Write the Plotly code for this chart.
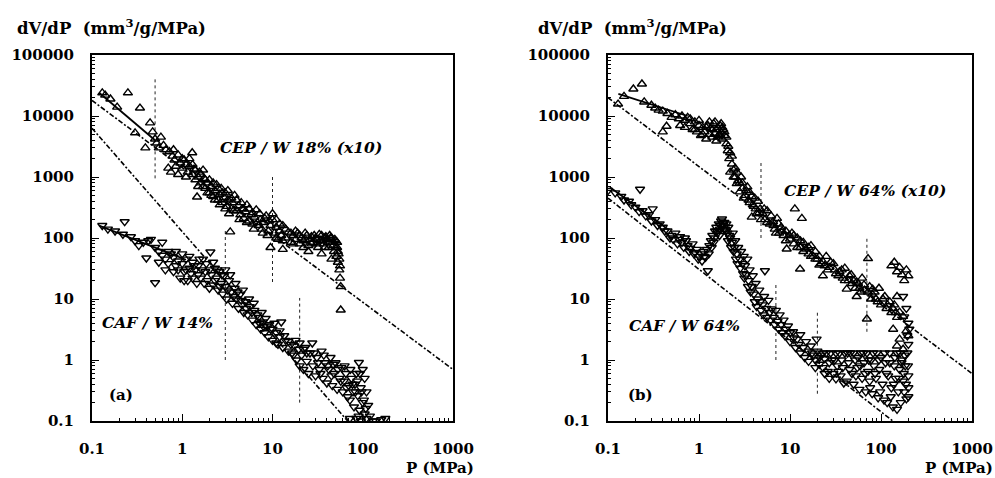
import plotly.graph_objects as go

W, H = 995, 478

# ---------------- data ----------------
x_ticks = [0.1, 1, 10, 100, 1000]
x_ticklabels = ["0.1", "1", "10", "100", "1000"]
y_ticks = [0.1, 1, 10, 100, 1000, 10000, 100000]
y_ticklabels = ["0.1", "1", "10", "100", "1000", "10000", "100000"]
minor_mult = [2, 3, 4, 5, 6, 7, 8, 9]

# panel (a): CEP/W 18% (x10)  -- up triangles
cep_a = [(0.13, 24000), (0.14, 22000), (0.16, 19000), (0.19, 14000), (0.25, 24000), (0.3, 5300),
         (0.34, 13500), (0.39, 3000), (0.44, 7700), (0.47, 5500), (0.5, 4200), (0.52, 3600),
         (0.55, 3000), (0.58, 4500), (0.62, 3300), (0.66, 2800), (0.7, 1400), (0.72, 2600),
         (0.78, 2200), (0.82, 1900), (0.85, 1500), (0.9, 2300), (0.95, 1700), (1.0, 1400),
         (1.05, 1900), (1.1, 1600), (1.15, 1200), (1.2, 1500), (1.29, 2500), (1.3, 1100),
         (1.35, 1350), (1.4, 900), (1.46, 470), (1.5, 1000), (1.55, 1200), (1.6, 800), (1.7, 700),
         (1.75, 950), (1.8, 650), (1.9, 800), (2.0, 550), (2.1, 700), (2.2, 480), (2.3, 600),
         (2.4, 750), (2.5, 420), (2.6, 520), (2.7, 650), (2.8, 380), (2.9, 460), (3.0, 550),
         (3.1, 330), (3.2, 420), (3.4, 126), (3.5, 300), (3.6, 380), (3.8, 500), (4.0, 280),
         (4.2, 340), (4.4, 240), (4.6, 300), (4.8, 210), (5.0, 270), (5.2, 350), (5.5, 190),
         (5.8, 240), (6.0, 170), (6.3, 220), (6.6, 290), (7.0, 160), (7.3, 200), (7.6, 140),
         (8.0, 180), (8.5, 230), (9.0, 130), (9.5, 160), (9.5, 70), (10.0, 250), (10.0, 200),
         (10.5, 120), (11, 150), (11.5, 95), (12, 130), (12.5, 110), (13, 160), (13, 65), (14, 100),
         (15, 125), (16, 85), (17, 110), (18, 95), (19, 120), (20, 80), (21, 100), (22, 90),
         (23, 120), (24, 110), (25, 75), (25, 60), (26, 95), (27, 105), (28, 85), (30, 100),
         (31, 80), (32, 70), (33, 115), (34, 90), (35, 110), (35, 55), (37, 80), (38, 100),
         (40, 95), (42, 70), (43, 110), (44, 100), (45, 45), (46, 85), (48, 60), (50, 90),
         (51, 50), (52, 70), (53, 40), (54, 55), (55, 30), (56, 22), (57, 16), (57, 6.6)]
cep_a_more = [(0.75, 1200), (0.8, 2800), (0.9, 1100), (1.0, 2000), (1.1, 1000), (1.2, 2000),
              (1.3, 1600), (1.4, 1300), (1.5, 700), (1.6, 1100), (1.7, 1300), (1.8, 900),
              (1.9, 550), (2.0, 900), (2.1, 500), (2.2, 800), (2.3, 420), (2.5, 650), (2.6, 350),
              (2.8, 550), (3.0, 300), (3.2, 600), (3.3, 250), (3.5, 450), (3.7, 280), (4.0, 420),
              (4.3, 200), (4.5, 380), (4.8, 300), (5.2, 180), (5.5, 300), (6.0, 260), (6.2, 140),
              (6.8, 180), (7.2, 250), (7.8, 120), (8.2, 210), (8.8, 110), (9.2, 190), (11, 200),
              (11, 100), (12, 170), (13, 90), (14, 140), (16, 120), (17, 80), (18, 130), (20, 110),
              (22, 70), (23, 95), (27, 80), (29, 110), (31, 95), (36, 90), (38, 70), (39, 105),
              (41, 85), (45, 100), (47, 75), (49, 95), (50, 70), (52, 85), (53, 60), (55, 45),
              (56, 35)]

# panel (a): CAF/W 14%  -- down triangles
caf_a = [(0.13, 160), (0.15, 140), (0.18, 130), (0.23, 185), (0.22, 115), (0.27, 105), (0.3, 90),
         (0.33, 75), (0.37, 85), (0.4, 47), (0.42, 90), (0.45, 95), (0.5, 18.5), (0.55, 60),
         (0.6, 52), (0.65, 45), (0.7, 38), (0.75, 55), (0.8, 48), (0.85, 35), (0.9, 42),
         (0.95, 22), (1.0, 38), (1.05, 28), (1.1, 45), (1.15, 20), (1.2, 32), (1.25, 26),
         (1.3, 40), (1.4, 30), (1.45, 18), (1.5, 35), (1.6, 22), (1.7, 45), (1.8, 28), (1.9, 20),
         (2.05, 59), (2.1, 25), (2.2, 17), (2.3, 32), (2.4, 22), (2.5, 14), (2.6, 28), (2.7, 18),
         (2.8, 12), (2.9, 24), (3.0, 16), (3.1, 10), (3.3, 20), (3.5, 13), (3.6, 8.5), (3.8, 15),
         (4.0, 10), (4.2, 7), (4.4, 12), (4.6, 8), (4.8, 6), (5.0, 9), (5.3, 5.5), (5.6, 7.5),
         (6.0, 4.5), (6.3, 6.5), (6.6, 3.8), (7.0, 5), (7.4, 3.2), (7.8, 4.2), (8.2, 2.8),
         (8.6, 3.6), (9.0, 2.4), (9.5, 3.2), (10, 2.1), (10.5, 4), (11, 2.8), (11.5, 1.8),
         (12, 2.4), (12.5, 4.2), (13, 1.6), (14, 2.1), (15, 1.4), (16, 1.8), (17, 1.2),
         (18, 2.1), (18.5, 1.0), (19.5, 1.5), (20, 0.8), (21, 1.2), (22, 0.7), (23, 1.6),
         (24, 0.95), (25, 0.6), (26, 1.3), (27.6, 1.9), (28, 0.8), (30, 0.55), (31, 1.1),
         (33, 0.7), (35, 1.4), (36, 0.5), (38, 0.9), (40, 0.42), (42, 0.7), (44, 1.1),
         (46, 0.38), (48, 0.6), (50, 0.9), (52, 0.33), (55, 0.5), (58, 0.75), (60, 0.3),
         (62, 0.45), (65, 0.6), (68, 0.25), (70, 0.38), (72, 0.22), (75, 0.5), (78, 0.3),
         (80, 0.17), (82, 0.4), (85, 0.6), (88, 0.26), (90.6, 0.91), (92, 0.15), (95, 0.35),
         (100, 0.2), (100, 0.7), (105, 0.13), (105, 0.5), (110, 0.3), (115, 0.18), (72, 0.11),
         (85, 0.11), (95, 0.1), (120, 0.12), (130, 0.1), (160, 0.105), (178, 0.11)]
caf_a_more = [(0.5, 70), (0.55, 40), (0.6, 85), (0.65, 30), (0.7, 60), (0.8, 28), (0.85, 60),
              (0.9, 30), (1.0, 55), (1.05, 20), (1.1, 30), (1.2, 50), (1.3, 22), (1.35, 35),
              (1.5, 25), (1.55, 45), (1.65, 30), (1.75, 18), (1.85, 38), (2.0, 30), (2.0, 15),
              (2.2, 40), (2.3, 20), (2.45, 30), (2.6, 16), (2.75, 25), (3.0, 30), (3.2, 14),
              (3.4, 25), (3.7, 11), (3.9, 18), (4.1, 13), (4.5, 9.5), (4.7, 14), (5.1, 7),
              (5.5, 10), (5.9, 6), (6.2, 8.5), (6.8, 5.5), (7.2, 4), (7.6, 6), (8.0, 3.5),
              (8.4, 4.8), (9.2, 3.8), (10, 3.2), (11, 1.9), (12, 3.0), (13.5, 2.5), (15, 2.0),
              (16.5, 1.3), (17.5, 1.7), (20, 1.9), (22, 1.5), (24, 1.3), (29, 1.3), (32, 0.9),
              (34, 0.6), (37, 1.2), (41, 0.8), (45, 0.55), (47, 0.85), (53, 0.7), (57, 0.45),
              (63, 0.8), (66, 0.35), (73, 0.7), (77, 0.4), (83, 0.3), (87, 0.45), (93, 0.6),
              (97, 0.3), (103, 0.22), (108, 0.16), (90, 0.12), (110, 0.11), (140, 0.1)]

# panel (b): CEP/W 64% (x10)  -- up triangles
cep_b = [(0.129, 15700), (0.15, 21000), (0.19, 27700), (0.236, 33500), (0.25, 17000), (0.3, 15000),
         (0.33, 13500), (0.36, 12500), (0.4, 5500), (0.4, 12000), (0.44, 6800), (0.45, 11000),
         (0.5, 9500), (0.55, 10500), (0.6, 9000), (0.62, 7000), (0.65, 10000), (0.7, 8500),
         (0.75, 9500), (0.8, 7500), (0.85, 6000), (0.9, 8000), (0.95, 5500), (1.0, 7000),
         (1.05, 4800), (1.1, 6500), (1.15, 5500), (1.2, 4200), (1.25, 7000), (1.3, 5000),
         (1.35, 6200), (1.4, 4500), (1.45, 7500), (1.5, 5200), (1.55, 3900), (1.6, 6500),
         (1.65, 4800), (1.7, 7000), (1.75, 5500), (1.8, 4200), (1.85, 6000), (1.9, 4800),
         (2.0, 3500), (2.07, 2700), (2.15, 2000), (2.3, 1630), (2.2, 1200), (2.4, 1000),
         (2.5, 1400), (2.6, 780), (2.7, 870), (2.8, 570), (2.9, 1000), (3.0, 650), (3.2, 500),
         (3.4, 690), (3.5, 420), (3.6, 560), (3.8, 220), (3.9, 350), (4.1, 450), (4.2, 300),
         (4.45, 400), (4.6, 260), (4.7, 300), (5.0, 250), (5.3, 200), (5.6, 280), (6.0, 170),
         (6.5, 185), (6.8, 140), (7.2, 210), (7.6, 120), (8.0, 150), (8.5, 110), (9.2, 66),
         (9.0, 130), (10, 96), (10.5, 120), (11.3, 300), (11, 80), (12, 100), (12.9, 31),
         (13.5, 210), (13, 70), (14, 85), (15, 66), (16, 55), (17, 75), (18, 50), (19, 60),
         (20, 45), (21, 36), (23, 41), (23, 24), (25, 50), (27, 33), (30, 38), (32, 26),
         (35, 28), (38, 22), (40, 32), (42, 14.5), (45, 24), (48, 18), (50, 20), (54, 11),
         (54, 19), (58, 15), (62, 22), (66, 14), (70, 4.7), (72, 46), (75, 16), (80, 12),
         (81, 14.5), (88, 10), (95, 15), (100, 8), (110, 11), (115, 7), (125, 9), (130, 6),
         (140, 8), (150, 5), (160, 6.1), (130, 35), (140, 40), (150, 28), (160, 33), (170, 25),
         (180, 20), (190, 30), (200, 24), (150, 11), (175, 5.2), (136, 3.2), (160, 2.2),
         (150, 1.7), (175, 1.5), (190, 3), (200, 2.5)]
cep_b_more = [(0.7, 6500), (0.8, 9000), (0.9, 6000), (1.0, 8500), (1.1, 5000), (1.2, 6500),
              (1.3, 8000), (1.4, 6000), (1.5, 8000), (1.55, 6000), (1.6, 4500), (1.7, 5000),
              (1.75, 7500), (1.8, 6500), (1.9, 5500), (2.0, 4500), (2.1, 3200), (2.2, 2500),
              (2.3, 2200), (2.4, 1300), (2.5, 1000), (2.6, 1200), (2.8, 800), (3.0, 800),
              (3.1, 450), (3.3, 600), (3.6, 380), (3.8, 480), (4.0, 330), (4.3, 250), (4.8, 200),
              (5.2, 300), (5.6, 180), (6.2, 230), (6.6, 160), (7.0, 120), (7.5, 170), (8.2, 130),
              (9.0, 90), (9.8, 110), (11, 110), (12, 70), (13, 90), (14, 60), (16, 70), (17, 50),
              (19, 45), (21, 50), (22, 38), (24, 35), (26, 30), (28, 40), (31, 30), (34, 24),
              (37, 30), (40, 20), (44, 20), (47, 25), (52, 15), (56, 18), (60, 13), (65, 17),
              (72, 13), (78, 10), (85, 13), (92, 9), (105, 10), (118, 8), (135, 7), (145, 6)]

# panel (b): CAF/W 64%  -- down triangles
caf_b = [(0.1, 600), (0.12, 550), (0.14, 480), (0.17, 400), (0.2, 320), (0.225, 630), (0.24, 280),
         (0.28, 240), (0.31, 300), (0.33, 200), (0.37, 170), (0.4, 150), (0.45, 130), (0.5, 110),
         (0.55, 120), (0.6, 95), (0.65, 85), (0.7, 100), (0.75, 75), (0.8, 68), (0.85, 80),
         (0.9, 58), (0.95, 65), (1.0, 50), (1.05, 55), (1.08, 42), (1.12, 60), (1.18, 48),
         (1.25, 29), (1.3, 75), (1.35, 90), (1.4, 110), (1.45, 85), (1.5, 130), (1.55, 150),
         (1.6, 120), (1.65, 170), (1.7, 140), (1.75, 190), (1.79, 205), (1.85, 160), (1.9, 180),
         (1.95, 140), (2.0, 170), (2.05, 120), (2.1, 150), (2.2, 100), (2.3, 85), (2.35, 120),
         (2.45, 70), (2.5, 90), (2.6, 55), (2.7, 70), (2.8, 45), (2.9, 60), (3.0, 38), (3.1, 50),
         (3.2, 35), (3.3, 25), (3.4, 45), (3.5, 20), (3.6, 30), (3.8, 16), (3.9, 24), (4.0, 12),
         (4.2, 18), (4.4, 10), (4.6, 14), (4.7, 9), (5.0, 8), (5.3, 29), (5.2, 11), (5.5, 7),
         (5.8, 9.5), (6.0, 6), (6.3, 6.9), (6.6, 5), (7.0, 6.5), (7.3, 4.3), (7.7, 5.5),
         (8.0, 3.8), (8.5, 4.5), (9.0, 3.2), (9.5, 3.6), (10, 2.8), (10.8, 2.9), (11, 2.3),
         (12, 2.2), (12.5, 1.8), (13, 2.6), (14, 1.6), (15, 2.0), (16, 1.4), (17, 1.7),
         (18, 1.2), (19.6, 2.2), (19, 1.0), (20, 1.4), (21, 0.85), (22, 1.2), (23, 0.75),
         (24, 1.05), (25, 1.3), (26, 0.65), (27, 0.9), (28, 1.3), (30, 0.6), (31, 1.0),
         (32, 0.49), (33, 0.8), (35, 1.3), (36, 0.55), (38, 0.75), (40, 1.3), (42, 0.45),
         (44, 0.9), (46, 1.3), (48, 0.6), (50, 0.4), (52, 1.0), (55, 0.75), (58, 0.33),
         (60, 1.3), (62, 0.5), (65, 0.9), (68, 0.3), (70, 1.3), (72, 0.65), (75, 0.45),
         (78, 1.0), (80, 0.28), (84, 0.8), (88, 0.5), (90, 1.3), (93, 0.24), (96, 0.7),
         (100, 1.1), (104, 0.4), (108, 0.22), (112, 0.9), (117, 0.2), (120, 0.55), (125, 1.3),
         (130, 0.35), (135, 0.17), (140, 0.8), (145, 0.5), (150, 0.155), (150, 1.3), (155, 0.3),
         (160, 0.7), (165, 0.2), (170, 1.0), (175, 0.45), (180, 0.3), (185, 0.8), (190, 0.23),
         (195, 1.3), (200, 0.55), (200, 0.35), (175, 11), (180, 5.1), (200, 4), (190, 7),
         (200, 1.8)]
caf_b_more = [(0.15, 420), (0.18, 350), (0.22, 270), (0.26, 230), (0.3, 190), (0.35, 160),
              (0.42, 130), (0.48, 100), (0.52, 95), (0.58, 80), (0.62, 105), (0.68, 70),
              (0.72, 90), (0.78, 60), (0.88, 55), (0.98, 45), (1.15, 50), (1.22, 65), (1.28, 55),
              (1.38, 70), (1.48, 100), (1.58, 130), (1.68, 110), (1.72, 160), (1.82, 175),
              (1.88, 140), (1.98, 130), (2.08, 90), (2.15, 110), (2.25, 70), (2.4, 60),
              (2.55, 45), (2.65, 38), (2.85, 32), (3.05, 26), (3.15, 22), (3.45, 16), (3.7, 13),
              (4.1, 9), (4.3, 7.5), (4.8, 6.5), (5.1, 5.5), (5.6, 5), (6.1, 4.5), (6.8, 3.8),
              (7.5, 3.2), (8.2, 2.8), (8.8, 2.5), (10, 2.0), (11.5, 1.6), (13, 1.3), (14.5, 1.1),
              (16, 0.95), (17.5, 1.3), (19, 0.75), (21, 1.1), (23, 1.3), (24, 0.6), (27, 0.5),
              (29, 1.0), (32, 1.3), (34, 0.65), (37, 1.0), (39, 0.42), (43, 1.3), (45, 0.7),
              (50, 1.3), (53, 0.55), (56, 1.1), (59, 0.8), (64, 1.3), (67, 0.6), (73, 1.0),
              (76, 0.35), (82, 1.3), (86, 0.6), (95, 1.0), (98, 0.3), (110, 1.3), (115, 0.6),
              (125, 0.9), (128, 0.25), (138, 0.4), (142, 1.1), (158, 0.5), (162, 1.3),
              (168, 0.9), (178, 0.6), (182, 1.2), (188, 0.4), (198, 0.8), (200, 0.25),
              (195, 2.5), (205, 3.2)]

# fitted lines (solid) and reference power laws (dashed): endpoints (P, dV/dP)
cep_a_fit = [(0.12, 24000), (0.5, 4000)]
caf_a_fit = [(0.12, 160), (1.1, 44)]
cep_a_ref = [(0.1, 18000), (1000, 0.7)]
caf_a_ref = [(0.1, 6300), (68, 0.1)]
cep_b_fit = [(0.13, 23000), (0.75, 10000)]
caf_b_fit = [(0.105, 680), (0.45, 140)]
cep_b_ref = [(0.1, 20000), (1000, 0.6)]
caf_b_ref = [(0.1, 450), (135, 0.1)]

# vertical dotted bars: (P, low, high)
bars_a = [(0.5, 950, 43000), (10, 19, 1000), (3, 1, 135), (20, 0.2, 10.4)]
bars_b = [(4.8, 100, 1800), (70, 2.9, 100), (7, 1, 19), (20, 0.28, 6.5)]

# ---------------- figure ----------------
def px_x(p):
    return p / W

def px_y(p):
    return 1 - p / H

fig = go.Figure()

def add_scatter(data, symbol, xa, ya):
    fig.add_trace(go.Scatter(x=[d[0] for d in data], y=[d[1] for d in data], mode="markers",
                             marker=dict(symbol=symbol, size=8, color="black",
                                         line=dict(color="black", width=1.4)),
                             xaxis=xa, yaxis=ya, showlegend=False, hoverinfo="skip"))

def add_line(data, dash, xa, ya, width=1.6):
    fig.add_trace(go.Scatter(x=[d[0] for d in data], y=[d[1] for d in data], mode="lines",
                             line=dict(color="black", width=width, dash=dash),
                             xaxis=xa, yaxis=ya, showlegend=False, hoverinfo="skip"))

def add_bars(bars, xa, ya):
    for p, lo, hi in bars:
        fig.add_trace(go.Scatter(x=[p, p], y=[lo, hi], mode="lines",
                                 line=dict(color="#222", width=1, dash="dot"),
                                 xaxis=xa, yaxis=ya, showlegend=False, hoverinfo="skip"))

dash_style = "5px,2px,2px,2px"

add_bars(bars_a, "x", "y")
add_line(cep_a_ref, dash_style, "x", "y")
add_line(caf_a_ref, dash_style, "x", "y")
add_line(cep_a_fit, "solid", "x", "y", 1.8)
add_line(caf_a_fit, "solid", "x", "y", 1.8)
add_scatter(cep_a + cep_a_more, "triangle-up-open", "x", "y")
add_scatter(caf_a + caf_a_more, "triangle-down-open", "x", "y")

add_bars(bars_b, "x2", "y2")
add_line(cep_b_ref, dash_style, "x2", "y2")
add_line(caf_b_ref, dash_style, "x2", "y2")
add_line(cep_b_fit, "solid", "x2", "y2", 1.8)
add_line(caf_b_fit, "solid", "x2", "y2", 1.8)
add_scatter(cep_b + cep_b_more, "triangle-up-open", "x2", "y2")
add_scatter(caf_b + caf_b_more, "triangle-down-open", "x2", "y2")

tickfont = dict(family="DejaVu Serif", size=15, color="black", weight="bold")

x_minor = [m * t for t in x_ticks[:-1] for m in minor_mult]
y_minor = [m * t for t in y_ticks[:-1] for m in minor_mult]

def axis(rng, domain, anchor, vals, labels, minor_vals):
    return dict(type="log", range=rng, domain=domain, anchor=anchor,
                tickmode="array", tickvals=vals, ticktext=labels, ticks="inside", ticklen=7,
                tickwidth=1.3, tickcolor="black", showline=True, mirror=True, linecolor="black",
                linewidth=2, showgrid=False, zeroline=False, tickfont=tickfont,
                ticklabelstandoff=13,
                minor=dict(tickmode="array", tickvals=minor_vals, ticks="inside", ticklen=3,
                           tickcolor="black", tickwidth=1, showgrid=False))

ydom = [px_y(421), px_y(55)]
fig.update_layout(
    width=W, height=H, margin=dict(l=0, r=0, t=0, b=0, autoexpand=False),
    paper_bgcolor="white", plot_bgcolor="white",
    xaxis=axis([-1, 3], [px_x(92), px_x(453)], "y", x_ticks, x_ticklabels, x_minor),
    yaxis=axis([-1, 5], ydom, "x", y_ticks, y_ticklabels, y_minor),
    xaxis2=axis([-1, 3], [px_x(608), px_x(972)], "y2", x_ticks, x_ticklabels, x_minor),
    yaxis2=axis([-1, 5], ydom, "x2", y_ticks, y_ticklabels, y_minor),
)

lab_font = dict(family="DejaVu Serif", size=16.5, color="black", weight="bold")
ax_font = dict(family="DejaVu Serif", size=15, color="black", weight="bold")
ital_font = dict(family="DejaVu Serif", size=15.5, color="black", weight="bold", style="italic")

def ann(text, x, y, font, xanchor="left", yanchor="middle"):
    fig.add_annotation(text=text, x=px_x(x), y=px_y(y), xref="paper", yref="paper",
                       showarrow=False, font=font, xanchor=xanchor, yanchor=yanchor)

ann("dV/dP  (mm<sup>3</sup>/g/MPa)", 15, 27, lab_font)
ann("dV/dP  (mm<sup>3</sup>/g/MPa)", 536, 27, lab_font)
ann("P (MPa)", 476, 468, ax_font, xanchor="right")
ann("P (MPa)", 995, 468, ax_font, xanchor="right")
ann("CEP / W 18% (x10)", 218, 147, ital_font)
ann("CAF / W 14%", 100, 322, ital_font)
ann("(a)", 107, 395, ax_font)
ann("CEP / W 64% (x10)", 782, 190, ital_font)
ann("CAF / W 64%", 627, 325, ital_font)
ann("(b)", 626, 395, ax_font)

fig.write_html("out.html")
